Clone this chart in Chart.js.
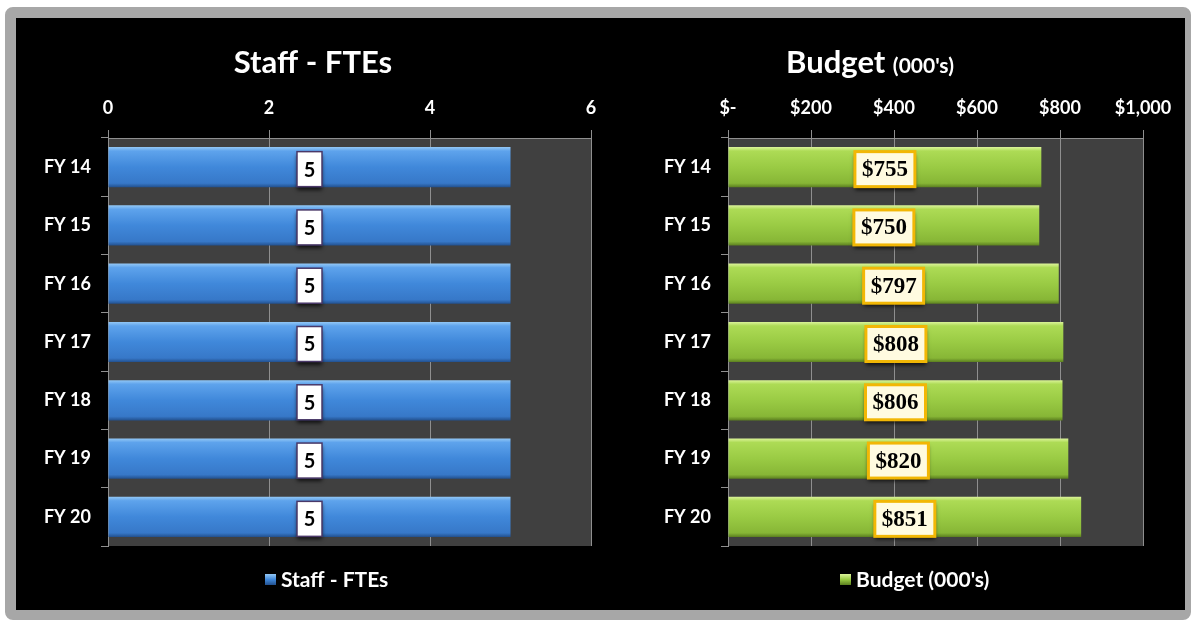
<!DOCTYPE html>
<html>
<head>
<meta charset="utf-8">
<script src="https://cdn.jsdelivr.net/npm/chart.js@4/dist/chart.umd.min.js"></script>
<style>
  body { margin: 0; background: #ffffff; width: 1193px; height: 622px; overflow: hidden; position: relative; }
  #frame {
    position: absolute; left: 5px; top: 7px; width: 1169px; height: 592px;
    background: #000000; border-style: solid; border-color: #a7a7a7;
    border-width: 11px 6px 10px 11px; border-radius: 8px;
  }
  .panel { position: absolute; top: 18px; height: 592px; }
  #staffWrap { left: 16px; width: 584px; }
  #budgetWrap { left: 600px; width: 585px; }
</style>
</head>
<body>
<div id="frame"></div>
<div class="panel" id="staffWrap"><canvas id="staffChart" width="584" height="592"></canvas></div>
<div class="panel" id="budgetWrap"><canvas id="budgetChart" width="585" height="592"></canvas></div>
<script>
// chart data
const years = ["FY 14", "FY 15", "FY 16", "FY 17", "FY 18", "FY 19", "FY 20"];
const staffFte = [5, 5, 5, 5, 5, 5, 5];
const budget = [755, 750, 797, 808, 806, 820, 851];
const staffTicks = ["0", "2", "4", "6"];
const budgetTicks = ["$-", "$200", "$400", "$600", "$800", "$1,000"];

const blueStops = ["#93c8f6", "#5ea3ec", "#4088da", "#3778c8", "#22508e"];
const greenStops = ["#dcf49a", "#addb55", "#9acb44", "#87b636", "#5b7f1f"];

function barGradient(stops) {
  return function (ctx) {
    let c = ctx.chart;
    if (!c.chartArea || !c.scales.y) return stops[2];
    let y = c.scales.y.getPixelForValue(ctx.dataIndex);
    let h = (c.chartArea.bottom - c.chartArea.top) / years.length * 0.69;
    let g = c.ctx.createLinearGradient(0, y - h / 2, 0, y + h / 2);
    g.addColorStop(0, stops[0]);
    g.addColorStop(0.1, stops[1]);
    g.addColorStop(0.5, stops[2]);
    g.addColorStop(0.9, stops[3]);
    g.addColorStop(1, stops[4]);
    return g;
  };
}

// background of plot, titles, legend, value boxes
const panelDecor = {
  id: "panelDecor",
  beforeDraw(chart, args, o) {
    let a = chart.chartArea;
    let ctx = chart.ctx;
    ctx.save();
    ctx.fillStyle = "#404040";
    ctx.fillRect(a.left, a.top, a.right - a.left, a.bottom - a.top);
    ctx.restore();
  },
  afterDatasetsDraw(chart, args, o) {
    let ctx = chart.ctx;
    let meta = chart.getDatasetMeta(0);
    let data = chart.data.datasets[0].data;
    ctx.save();
    meta.data.forEach((bar, i) => {
      let text = o.labelFormat(data[i]);
      let cx = (bar.x + bar.base) / 2;
      let cy = bar.y + 2;
      ctx.font = o.labelFont;
      let w = o.boxWidth || ctx.measureText(text).width + 14;
      let h = 35;
      ctx.shadowColor = "rgba(0,0,0,0.75)";
      ctx.shadowOffsetY = 3;
      ctx.shadowBlur = 4;
      ctx.fillStyle = o.boxFill;
      ctx.fillRect(cx - w / 2, cy - h / 2, w, h);
      ctx.shadowColor = "transparent";
      ctx.strokeStyle = o.boxStroke;
      ctx.lineWidth = o.boxLine;
      ctx.strokeRect(cx - w / 2, cy - h / 2, w, h);
      ctx.fillStyle = "#000000";
      ctx.textAlign = "center";
      ctx.textBaseline = "middle";
      ctx.fillText(text, cx, cy + 1);
    });
    ctx.restore();
  },
  afterDraw(chart, args, o) {
    let ctx = chart.ctx;
    ctx.save();
    ctx.fillStyle = "#ffffff";
    ctx.textBaseline = "alphabetic";
    ctx.textAlign = "left";
    // title, may be in parts of different sizes
    let total = 0;
    o.title.forEach((p) => {
      ctx.font = p.font;
      total += ctx.measureText(p.text).width;
    });
    let x = o.titleX - total / 2;
    o.title.forEach((p) => {
      ctx.font = p.font;
      ctx.fillText(p.text, x, 55);
      x += ctx.measureText(p.text).width;
    });
    // legend
    let g = ctx.createLinearGradient(0, 556, 0, 567);
    g.addColorStop(0, o.swatch[0]);
    g.addColorStop(0.5, o.swatch[2]);
    g.addColorStop(1, o.swatch[4]);
    ctx.fillStyle = g;
    ctx.fillRect(o.legendX, 556, 11, 11);
    ctx.fillStyle = "#ffffff";
    ctx.font = "bold 21px Lato";
    ctx.fillText(o.legendText, o.legendX + 16, 569);
    ctx.restore();
  },
};

function makePanel(id, values, maxV, step, tickLabels, yWidth, padRight, stops, decor) {
  return new Chart(id, {
    type: "bar",
    plugins: [panelDecor],
    data: {
      labels: years,
      datasets: [
        {
          label: decor.legendText,
          data: values,
          backgroundColor: barGradient(stops),
          barPercentage: 0.69,
          categoryPercentage: 1,
        },
      ],
    },
    options: {
      indexAxis: "y",
      responsive: false,
      animation: false,
      layout: { padding: { top: 74, bottom: 64, left: 0, right: padRight } },
      scales: {
        x: {
          position: "top",
          min: 0,
          max: maxV,
          ticks: {
            stepSize: step,
            color: "#ffffff",
            padding: 11,
            font: { family: "Lato", weight: "bold", size: 18 },
            callback: (v, i) => tickLabels[i],
          },
          grid: { color: "#8f8f8f", tickColor: "#8f8f8f", tickLength: 8, lineWidth: 1 },
          border: { color: "#8f8f8f" },
          afterFit: (s) => {
            s.height = 46;
            s.paddingRight = 0;
          },
        },
        y: {
          ticks: {
            color: "#ffffff",
            padding: 10,
            font: { family: "Lato", weight: "bold", size: 18 },
          },
          grid: { drawOnChartArea: false, offset: true, tickLength: 7, color: "#8f8f8f" },
          border: { color: "#8f8f8f" },
          afterFit: (s) => { s.width = yWidth; },
        },
      },
      plugins: {
        legend: { display: false },
        tooltip: { enabled: false },
        panelDecor: decor,
      },
    },
  });
}

try {
  makePanel("staffChart", staffFte, 6, 2, staffTicks, 92, 9, blueStops, {
    title: [{ text: "Staff - FTEs", font: "bold 31px Lato" }],
    titleX: 297,
    legendText: "Staff - FTEs",
    legendX: 249,
    swatch: blueStops,
    labelFormat: (v) => String(v),
    labelFont: "bold 20px Lato",
    boxWidth: 25,
    boxFill: "#ffffff",
    boxStroke: "#4a3868",
    boxLine: 1.5,
  });
  makePanel("budgetChart", budget, 1000, 200, budgetTicks, 128, 42, greenStops, {
    title: [
      { text: "Budget ", font: "bold 31px Lato" },
      { text: "(000's)", font: "bold 21px Lato" },
    ],
    titleX: 270,
    legendText: "Budget (000's)",
    legendX: 240,
    swatch: greenStops,
    labelFormat: (v) => "$" + v,
    labelFont: "bold 23px 'Liberation Serif'",
    boxFill: "#fffbe0",
    boxStroke: "#f2b705",
    boxLine: 3,
  });
} catch (e) {
  console.error(e);
}
</script>
</body>
</html>
